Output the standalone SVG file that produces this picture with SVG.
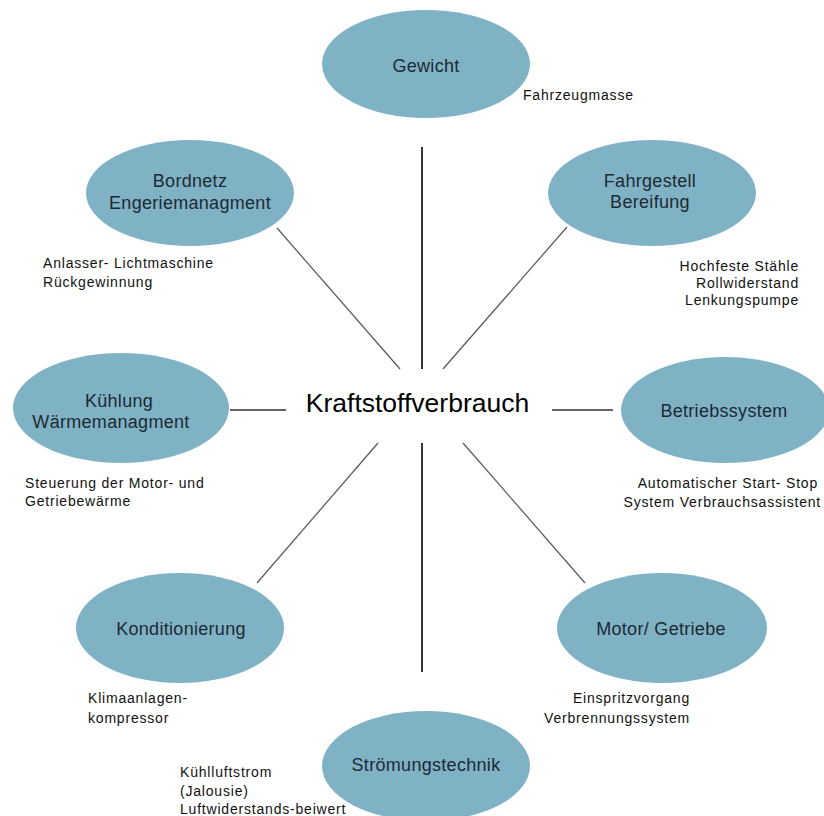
<svg xmlns="http://www.w3.org/2000/svg" width="824" height="816" viewBox="0 0 824 816">
<style>
  .node ellipse { fill: #80b2c6; }
  .lbl { font-family: "Liberation Sans", Arial, sans-serif; font-size: 18px; letter-spacing: 0.3px; fill: #1c2a33; text-anchor: middle; }
  .note { font-family: "Liberation Sans", Arial, sans-serif; font-size: 14px; letter-spacing: 0.8px; fill: #111; }
  .end { text-anchor: end; }
  .center { font-family: "Liberation Sans", Arial, sans-serif; font-size: 26.5px; fill: #000; text-anchor: middle; }
  .v { stroke: #000; stroke-width: 1.6; }
  .h { stroke: #333; stroke-width: 1.5; }
  .d { stroke: #555; stroke-width: 1.2; }
</style>
<rect width="824" height="816" fill="#ffffff"/>
<g id="connectors">
  <line class="v" x1="422" y1="147" x2="422" y2="369"/>
  <line class="v" x1="422" y1="443" x2="422" y2="672"/>
  <line class="h" x1="230" y1="410" x2="286" y2="410"/>
  <line class="h" x1="552" y1="410" x2="613" y2="410"/>
  <line class="d" x1="277" y1="228" x2="400" y2="369"/>
  <line class="d" x1="567" y1="227" x2="443" y2="369"/>
  <line class="d" x1="257" y1="583" x2="378" y2="443"/>
  <line class="d" x1="585" y1="583" x2="463" y2="443"/>
</g>
<g id="center">
  <text class="center" x="417.5" y="412">Kraftstoffverbrauch</text>
</g>
<g id="gewicht" class="node">
  <ellipse cx="426" cy="64" rx="104" ry="54"/>
  <text class="lbl" x="426" y="72">Gewicht</text>
  <text class="note" x="523" y="100">Fahrzeugmasse</text>
</g>
<g id="bordnetz" class="node">
  <ellipse cx="190" cy="193" rx="104" ry="53"/>
  <text class="lbl" x="190" y="187">Bordnetz</text>
  <text class="lbl" x="190" y="209">Engeriemanagment</text>
  <text class="note" x="43" y="268">Anlasser- Lichtmaschine</text>
  <text class="note" x="43" y="287">Rückgewinnung</text>
</g>
<g id="fahrgestell" class="node">
  <ellipse cx="652" cy="193" rx="104" ry="53"/>
  <text class="lbl" x="650" y="187">Fahrgestell</text>
  <text class="lbl" x="650" y="208">Bereifung</text>
  <text class="note end" x="799" y="271">Hochfeste Stähle</text>
  <text class="note end" x="799" y="288">Rollwiderstand</text>
  <text class="note end" x="799" y="305">Lenkungspumpe</text>
</g>
<g id="kuehlung" class="node">
  <ellipse cx="121" cy="408" rx="108" ry="55"/>
  <text class="lbl" x="119" y="407">Kühlung</text>
  <text class="lbl" x="111" y="428">Wärmemanagment</text>
  <text class="note" x="25" y="488">Steuerung der Motor- und</text>
  <text class="note" x="25" y="506">Getriebewärme</text>
</g>
<g id="betriebssystem" class="node">
  <ellipse cx="725" cy="410" rx="104" ry="53"/>
  <text class="lbl" x="724" y="417">Betriebssystem</text>
  <text class="note end" x="818" y="488">Automatischer Start- Stop</text>
  <text class="note end" x="821" y="507">System Verbrauchsassistent</text>
</g>
<g id="konditionierung" class="node">
  <ellipse cx="180" cy="628" rx="104" ry="55"/>
  <text class="lbl" x="181" y="635">Konditionierung</text>
  <text class="note" x="88" y="703">Klimaanlagen-</text>
  <text class="note" x="88" y="723">kompressor</text>
</g>
<g id="motor" class="node">
  <ellipse cx="662" cy="628" rx="105" ry="55"/>
  <text class="lbl" x="661" y="635">Motor/ Getriebe</text>
  <text class="note end" x="690" y="703">Einspritzvorgang</text>
  <text class="note end" x="690" y="723">Verbrennungssystem</text>
</g>
<g id="stroemung" class="node">
  <ellipse cx="426" cy="766" rx="104" ry="55"/>
  <text class="lbl" x="426" y="771">Strömungstechnik</text>
  <text class="note" x="180" y="777">Kühlluftstrom</text>
  <text class="note" x="180" y="796">(Jalousie)</text>
  <text class="note" x="180" y="814">Luftwiderstands-beiwert</text>
</g>
</svg>
